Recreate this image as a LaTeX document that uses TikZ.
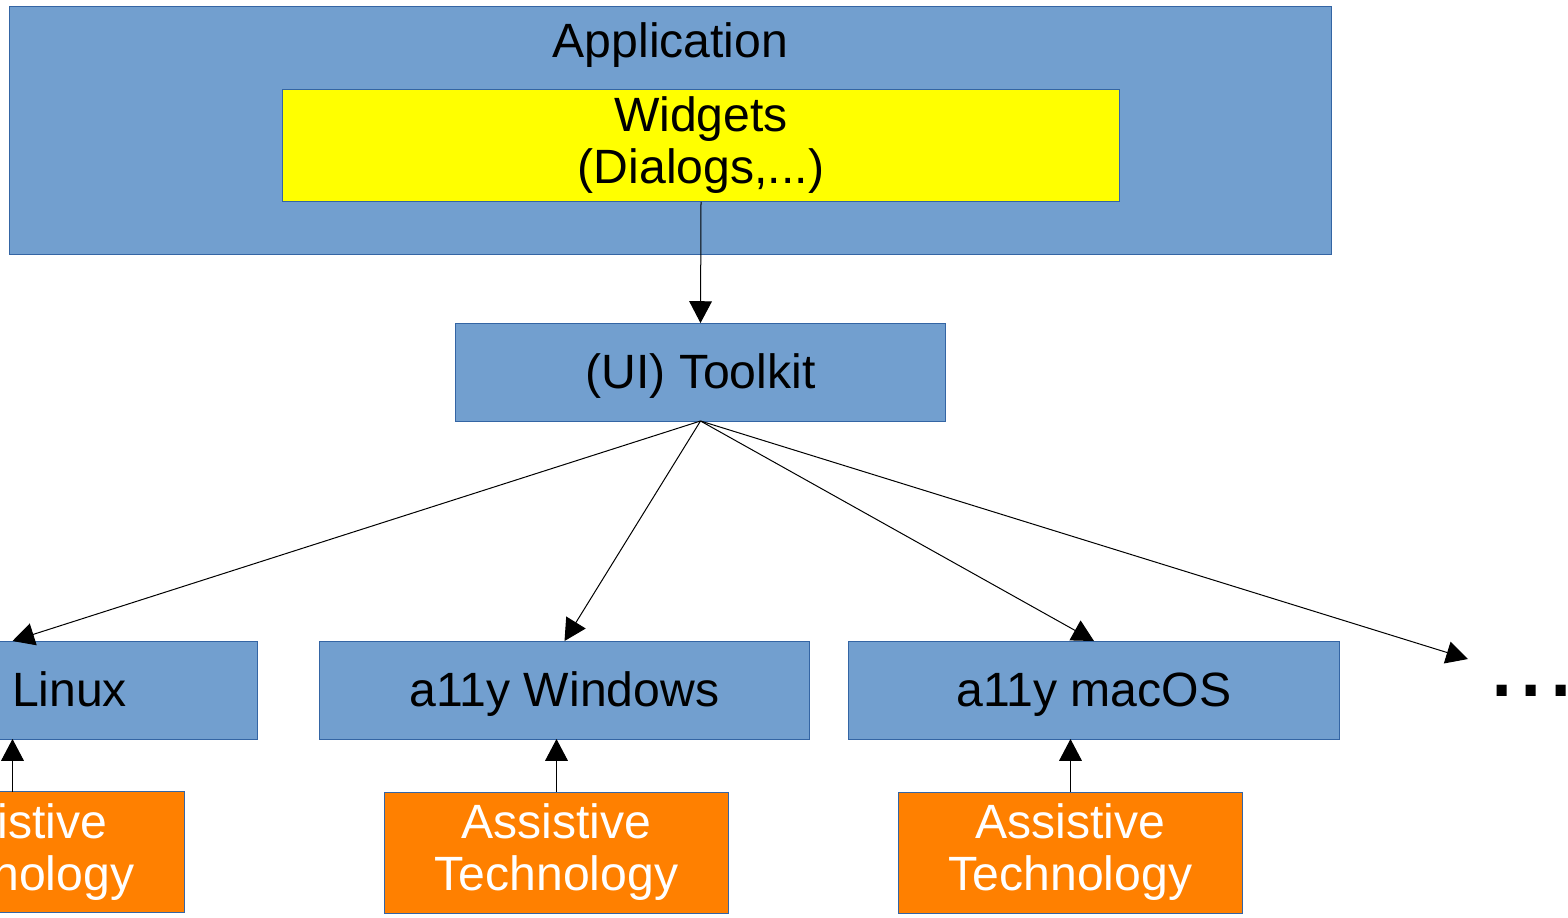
\documentclass[tikz,border=0pt]{standalone}
\usepackage{fontspec}
\setmainfont{Liberation Sans}
\usetikzlibrary{positioning, arrows.meta}
\definecolor{boxblue}{HTML}{729FCF}
\definecolor{boxline}{HTML}{3465A4}
\definecolor{atorange}{HTML}{FF8000}
\definecolor{widgetyellow}{HTML}{FFFF00}
\newcommand{\lostrut}{\rule[-0.212em]{0pt}{1.117em}}

\begin{document}
\begin{tikzpicture}[x=0.02cm, y=-0.02cm,
    every node/.style={inner sep=0pt, outer sep=0pt, font=\fontsize{27.4pt}{29.6pt}\selectfont},
    box/.style={draw=boxline, line width=0.57pt, fill=boxblue, align=center, execute at begin node=\lostrut},
    layer/.style={box, minimum width=9.82cm, minimum height=1.96cm},
    atbox/.style={box, fill=atorange, text=white, minimum width=6.9cm, minimum height=2.42cm},
    link/.style={line width=0.57pt, -{Triangle[length=12.4pt, width=12.9pt]}}]
  \useasboundingbox (0,0) rectangle (1568,917);
  \clip (0,0) rectangle (1568,917);

  \node [box, minimum width=26.46cm, minimum height=4.98cm] (app) at (670.5,130.5) {};
  \node [below=0.16cm of app.north, execute at begin node=\lostrut] (apptext) {Application};
  \node [box, fill=widgetyellow, minimum width=16.76cm, minimum height=2.26cm] (widgets) at (701,145.5) {Widgets\\(Dialogs,...)};

  \node [layer] (toolkit) at (700.5,372) {(UI) Toolkit};
  \node [layer] (linux) at (12.5,690) {a11y Linux};
  \node [layer] (windows) at (564.5,690) {a11y Windows};
  \node [layer] (macos) at (1094,690) {a11y macOS};
  \node [anchor=base west, font=\fontsize{60pt}{72pt}\selectfont] (more) at (1487.4,696) {...};
  \coordinate (moretip) at (1468,659);

  \node [atbox, below=1.06cm of linux] (atlinux) {Assistive\\Technology};
  \node [atbox] (atwindows) at (556.5,852.5) {Assistive\\Technology};
  \node [atbox] (atmacos) at (1070.5,852.5) {Assistive\\Technology};

  \draw [link] (widgets.south) -- (toolkit.north);
  \draw [link] (toolkit.south) -- (linux.north);
  \draw [link] (toolkit.south) -- (windows.north);
  \draw [link] (toolkit.south) -- (macos.north);
  \draw [link] (toolkit.south) -- (moretip);
%  the AT boxes talk to the a11y layers
  \draw [link] (atlinux.north) -- (linux.south);
  \draw [link] (atwindows.north) -- (atwindows.north |- windows.south);
  \draw [link] (atmacos.north) -- (atmacos.north |- macos.south);
\end{tikzpicture}
\end{document}
